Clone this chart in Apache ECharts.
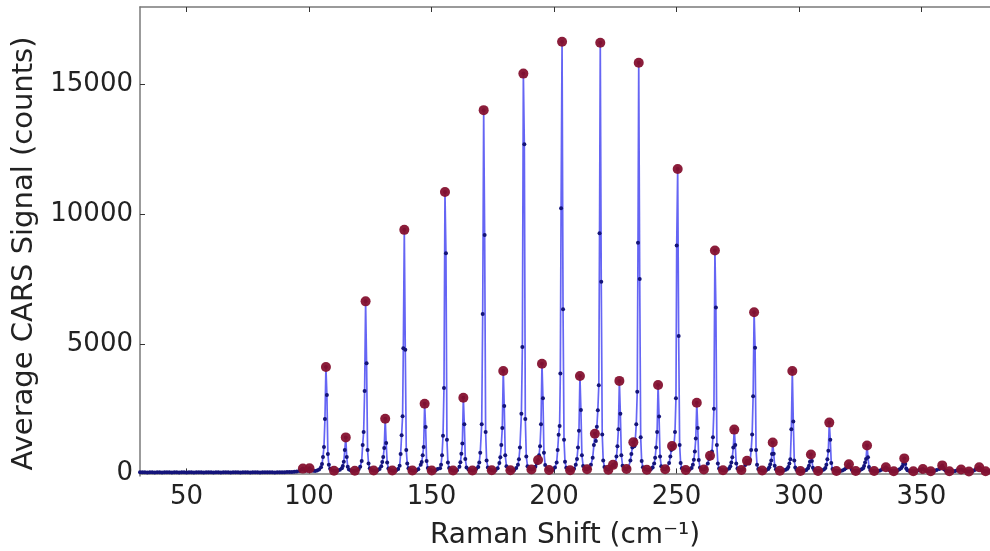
<!DOCTYPE html>
<html>
<head>
<meta charset="utf-8">
<script src="https://cdn.jsdelivr.net/npm/echarts@6/dist/echarts.min.js"></script>
<style>
html,body{margin:0;padding:0;background:#fff;}
#chart{width:990px;height:551px;}
</style>
</head>
<body>
<div id="chart"></div>
<script>
// Raman shift (cm^-1) of each measured point
const ramanShift = [
31,32,33,34,35,36,37,38,39,40, 41,42,43,44,45,46,47,48,49,50, 51,52,53,54,55,56,57,58,59,60,
61,62,63,64,65,66,67,68,69,70, 71,72,73,74,75,76,77,78,79,80, 81,82,83,84,85,86,87,88,89,90,
91,92,93,94,95,96,
97,97.5,98.2,99,99.6,100.2,100.9,101.7,102.5,103.3,104.1,
104.9,105.3,105.7,106.1,106.5,106.9,107.3,107.7,108.1,108.6,
109.4,110.2,111.0,111.8,112.6,
113.4,113.8,114.2,114.6,115.0,115.4,115.8,116.3,
117.1,117.9,118.7,119.5,120.3,
120.9,121.5,121.9,122.3,122.7,123.1,123.5,123.9,124.3,124.8,
125.6,126.4,127.2,128.0,128.8,
129.5,129.9,130.3,130.7,131.1,131.5,131.9,132.4,
133.2,134.0,134.8,135.6,136.4,
137.0,137.4,137.8,138.2,138.5,138.9,139.3,139.7,140.1,140.6,
141.4,142.2,143.0,143.8,144.6,
145.6,146.0,146.4,146.8,147.2,147.6,148.0,148.5,
149.3,150.1,150.9,151.7,152.5,
153.5,153.9,154.3,154.7,155.1,155.5,155.9,156.3,156.7,157.2,
158.0,158.8,159.6,160.4,
161.4,161.8,162.2,162.6,163.0,163.4,163.8,164.3,
165.1,165.9,166.7,167.5,168.3,
169.1,169.5,169.9,170.5,170.9,171.3,171.7,172.1,172.5,173.0,
173.8,174.6,175.4,176.2,177.0,
177.7,178.1,178.5,178.9,179.3,179.7,180.1,180.6,
181.4,182.2,183.0,183.8,184.6,
185.3,185.7,186.1,186.7,187.1,187.5,187.9,188.3,188.7,189.2,
190.0,190.8,191.6,192.4,193.0,193.5,
193.9,194.3,194.7,195.1,195.5,195.9,196.4,
197.2,198.0,198.8,199.6,200.4,
201.1,201.5,201.9,202.3,202.6,202.9,203.3,203.7,204.1,204.5,205.0,
205.8,206.6,207.4,208.2,
208.9,209.4,209.8,210.2,210.6,211.0,211.4,211.9,
212.7,213.5,214.3,215.1,
215.8,216.3,216.7,217.1,217.5,217.9,218.3,218.6,218.9,219.3,219.7,220.1,220.6,
221.4,222.2,223.0,223.6,224.1,224.6,
225.1,225.5,225.9,226.3,226.7,227.1,227.5,228.0,
228.8,229.6,230.4,231.2,
231.6,232.0,232.4,232.8,233.2,233.6,234.0,234.3,234.6,235.0,235.4,235.8,236.3,
237.1,237.9,238.7,239.5,
240.3,240.9,241.3,241.7,242.1,242.5,242.9,243.3,243.8,
244.6,245.4,246.2,247.0,
247.5,247.9,248.2,248.6,249.0,249.4,249.8,250.1,250.5,250.9,251.3,251.7,252.2,
253.0,253.8,254.6,255.4,
256.2,256.7,257.1,257.5,257.9,258.3,258.7,259.1,259.6,
260.4,261.2,262.0,262.8,
263.3,263.7,264.1,264.5,264.9,265.3,265.7,266.1,266.5,266.9,267.4,
268.2,269.0,269.8,270.6,
271.5,272.0,272.4,272.8,273.2,273.6,274.0,274.4,274.9,
275.7,276.5,277.3,278.1,
278.5,278.8,279.2,279.7,280.1,280.5,280.9,281.3,281.7,282.1,282.5,282.9,283.4,
284.2,285.0,285.8,286.6,
287.5,287.9,288.3,288.7,289.0,289.3,289.7,290.1,290.6,
291.4,292.2,293.0,293.8,294.6,
295.3,295.7,296.1,296.5,296.9,297.3,297.7,298.1,298.5,299.0,
299.8,300.6,301.4,302.2,303.0,
303.7,304.1,304.5,304.9,305.3,305.7,306.2,
307.0,307.8,308.6,309.4,310.2,
310.8,311.2,311.6,312.0,312.4,312.8,313.2,313.7,
314.5,315.3,316.1,316.9,317.7,318.5,
319.2,319.8,320.4,321.0,321.6,
322.4,323.2,324.0,324.8,325.6,
326.2,326.6,327.0,327.4,327.8,328.2,328.6,329.1,
329.9,330.7,331.5,332.3,333.1,333.9,
334.7,335.5,336.3,
337.1,337.9,338.7,339.5,340.3,341.1,
341.8,342.2,342.6,343.0,343.4,343.8,344.3,
345.1,345.9,346.7,347.5,348.3,349.1,
349.8,350.6,351.4,
352.2,353.0,353.8,354.6,355.4,356.2,
357.3,357.8,358.1,358.5,358.9,359.3,359.8,
360.6,361.4,362.2,363.0,363.8,364.6,
365.4,366.2,367.0,
367.8,368.6,369.4,370.2,371.0,371.8,
372.5,373.0,373.6,374.1,374.6,
375.4,376.2,377.0,377.8
];
// Average CARS signal (counts) at each point above
const carsCounts = [
45,40,42,38,44,41,39,43,40,37, 42,45,40,38,41,44,39,42,40,38, 43,41,39,44,40,42,38,41,45,40,
39,43,41,38,42,44,40,39,41,43, 40,38,42,45,41,39,40,44,42,38, 41,43,40,46,42,39,44,47,43,48,
52,50,55,60,70,95,
150,185,130,110,150,195,140,100,90,110,150,
240,360,630,1020,2100,4110,3030,750,330,180,
120,100,90,110,140,
200,290,450,900,1390,630,260,150,
110,95,100,120,170,
260,480,1100,1600,3180,6640,4250,900,380,200,
130,110,100,120,170,
280,440,630,980,2110,1170,420,190,
130,110,100,120,170,
300,750,1470,2210,4830,9400,4770,900,380,200,
130,110,100,115,160,
330,440,700,1020,2690,1790,480,210,
140,110,100,120,170,
200,330,700,1450,3300,10860,8500,1300,420,210,
140,115,105,120,
260,430,760,1150,2920,1900,560,230,
150,120,110,125,180,
250,420,800,1900,6150,14020,9200,1600,500,230,
150,120,110,130,200,
400,620,1100,1750,3950,2600,700,280,
160,125,115,130,210,
330,550,1000,2300,4880,15430,12700,2100,650,280,
180,150,170,260,380,520,
700,1050,1900,4230,2900,800,320,
170,130,120,140,230,
420,900,1490,1830,3860,10230,16660,6340,1300,450,220,
150,125,130,180,
330,560,1000,1650,3760,2450,700,290,
180,160,200,330,
600,1100,1530,1250,1800,2440,3400,9270,16620,7400,1500,500,250,
170,140,200,260,330,280,
400,650,1050,1700,3570,2300,700,300,
190,170,230,500,
750,1000,1200,1050,1300,1900,3150,8900,15850,7500,1400,480,240,
170,140,130,160,
230,380,600,1000,1600,3410,2200,650,280,
170,160,220,400,
650,900,1060,950,1100,1600,2900,8800,11750,5300,1100,400,200,
150,130,125,150,
210,330,530,850,1350,2730,1750,520,230,
160,150,200,380,
560,680,600,850,1400,2500,8600,6400,1100,380,190,
140,120,115,140,
190,280,420,620,1000,1690,1100,380,190,
140,130,170,320,
430,490,400,380,520,900,1500,2980,6220,4850,900,330,170,
130,110,105,120,
170,240,350,500,750,1190,760,300,160,
120,105,100,110,140,
180,250,380,550,1700,3950,2000,500,230,140,
110,95,90,100,130,
200,300,450,730,480,220,130,
100,90,95,110,150,
210,330,550,870,1960,1300,400,170,
110,95,90,95,110,150,
200,270,350,230,140,
100,90,95,110,160,
200,290,420,560,1080,620,250,130,
100,90,85,95,110,150,
190,240,170,
110,90,85,90,110,160,
210,280,380,580,360,190,120,
95,85,80,85,100,130,
150,170,135,
100,85,80,85,100,130,
170,210,250,310,230,160,110,
90,80,75,80,95,120,
135,150,120,
95,80,75,80,95,130,
170,200,240,190,130,
90,80,75,80
];
// Detected peaks (red markers)
const peakShift = [
97.5,100.2,106.9,115.0,123.1,131.1,138.9,147.2,155.5,163.0,171.3,179.3,187.5,193.5,195.1,
203.3,210.6,216.7,218.9,224.1,226.7,232.4,234.6,242.5,248.2,250.5,258.3,263.7,265.7,273.6,
278.8,281.7,289.3,297.3,304.9,312.4,320.4,327.8,335.5,343.0,350.6,358.5,366.2,373.6,
110.2,118.7,126.4,134.0,142.2,150.1,158.8,166.7,174.6,182.2,190.8,198.0,206.6,213.5,222.2,
229.6,237.9,245.4,253.8,261.2,269.0,276.5,285.0,292.2,300.6,307.8,315.3,323.2,330.7,338.7,
346.7,353.8,361.4,369.4,376.2
];
const peakCounts = [
185,195,4110,1390,6640,2110,9400,2690,10860,2920,14020,3950,15430,520,4230,
16660,3760,1530,16620,330,3570,1200,15850,3410,1060,11750,2730,680,8600,1690,
490,6220,1190,3950,730,1960,350,1080,240,580,170,310,150,240,
100,100,110,110,110,110,115,110,120,125,150,130,125,160,140,
170,140,160,130,150,120,130,110,105,95,90,95,90,90,85,
80,80,80,75,80
];
const xTicks = [50, 100, 150, 200, 250, 300, 350];
const yTicks = [0, 5000, 10000, 15000];
const xTitle = 'Raman Shift (cm\u207B\u00B9)';
const yTitle = 'Average CARS Signal (counts)';

if (ramanShift.length !== carsCounts.length) console.error('length mismatch', ramanShift.length, carsCounts.length);
if (peakShift.length !== peakCounts.length) console.error('peak mismatch', peakShift.length, peakCounts.length);

const lineData = ramanShift.map((x, i) => [x, carsCounts[i]]);
const peakData = peakShift.map((x, i) => [x, peakCounts[i]]);

const FONT = 'DejaVu Sans';
const axisColor = '#7a7a7a';
const plain = v => String(Math.round(v));

const chart = echarts.init(document.getElementById('chart'), null, {renderer: 'canvas'});
chart.setOption({
  animation: false,
  backgroundColor: '#ffffff',
  grid: {left: 140, right: 0, top: 7, bottom: 75, containLabel: false, outerBoundsMode: 'none'},
  xAxis: [{
    type: 'value', min: 31, max: 378, position: 'bottom',
    name: xTitle, nameLocation: 'middle', nameGap: 46,
    nameTextStyle: {fontFamily: FONT, fontSize: 28, color: '#222'},
    axisLine: {show: true, lineStyle: {color: axisColor, width: 1.5}},
    axisTick: {show: true, inside: true, length: 5, customValues: xTicks, lineStyle: {color: '#333'}},
    axisLabel: {show: true, customValues: xTicks, formatter: plain, fontFamily: FONT, fontSize: 26, color: '#222', margin: 8},
    splitLine: {show: false}
  }, {
    type: 'value', min: 31, max: 378, position: 'top',
    axisLine: {show: true, lineStyle: {color: axisColor, width: 1.5}},
    axisTick: {show: true, inside: true, length: 5, customValues: xTicks, lineStyle: {color: '#333'}},
    axisLabel: {show: false},
    splitLine: {show: false}
  }],
  yAxis: [{
    type: 'value', min: -100, max: 18000, position: 'left',
    name: yTitle, nameLocation: 'middle', nameGap: 78, nameRotate: 90,
    nameTextStyle: {fontFamily: FONT, fontSize: 29, color: '#222', padding: [0, 24, 0, 0]},
    axisLine: {show: true, lineStyle: {color: axisColor, width: 1.5}},
    axisTick: {show: true, inside: true, length: 5, customValues: yTicks, lineStyle: {color: '#333'}},
    axisLabel: {show: true, customValues: yTicks, formatter: plain, fontFamily: FONT, fontSize: 26, color: '#222', margin: 7},
    splitLine: {show: false}
  }],
  series: [{
    type: 'line',
    data: lineData,
    xAxisIndex: 0, yAxisIndex: 0,
    showSymbol: true, symbol: 'circle', symbolSize: 4,
    itemStyle: {color: '#14147a'},
    lineStyle: {color: '#4a4af2', width: 1.7, opacity: 0.85},
    z: 2
  }, {
    type: 'scatter',
    data: peakData,
    xAxisIndex: 0, yAxisIndex: 0,
    symbol: 'circle', symbolSize: 10,
    itemStyle: {color: '#85112f', opacity: 0.95},
    z: 3
  }]
});
</script>
</body>
</html>
